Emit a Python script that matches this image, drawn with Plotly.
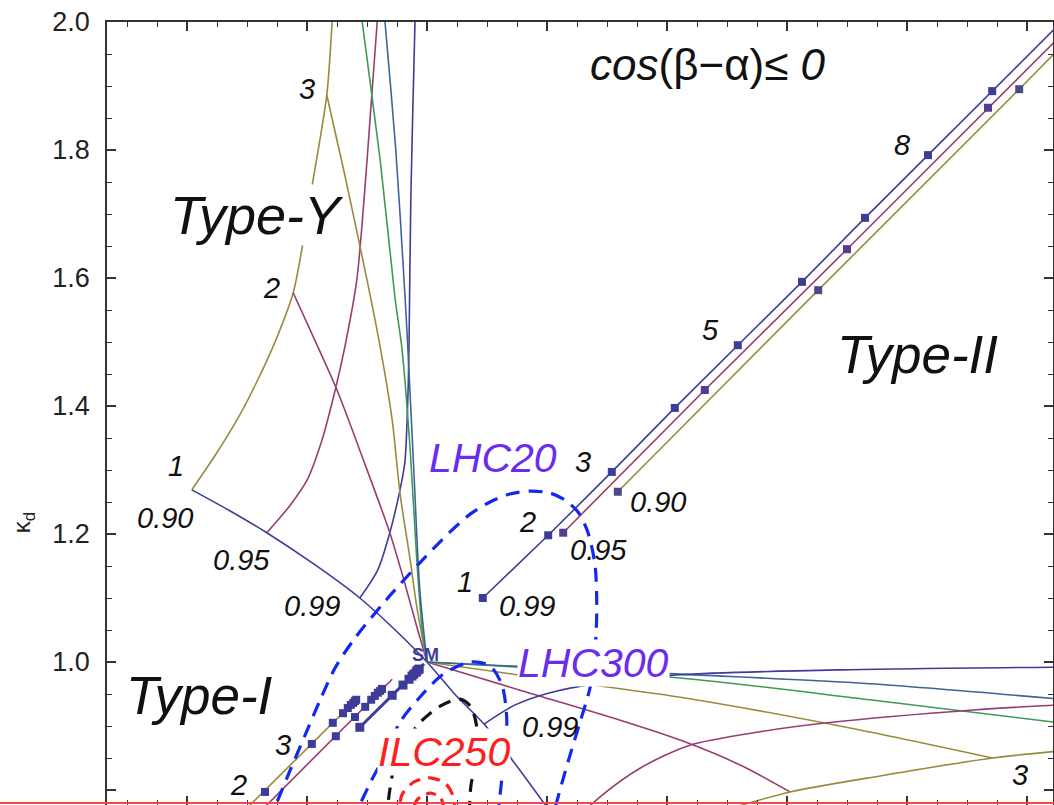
import plotly.graph_objects as go

# ---------------------------------------------------------------
# Palette of the parameter grid (tan(beta) index colours)
# ---------------------------------------------------------------
C_BLUE = "#3D3D99"
C_MAG = "#993D71"
C_OLIVE = "#998B3D"
C_GREEN = "#3D9954"
C_STEEL = "#3D6499"
C_LHC = "#1428F0"
C_TXT_LHC = "#6A2CF0"
C_ILC = "#FF1E1E"

# ---------------------------------------------------------------
# Type-Y : curves of fixed sin(beta-alpha), tan(beta) growing upward
# ---------------------------------------------------------------
y_s90_kl = [0.608, 0.647, 0.685, 0.718, 0.748, 0.777, 0.792, 0.808, 0.833, 0.842, 0.845]
y_s90_kd = [1.269, 1.323, 1.381, 1.441, 1.503, 1.577, 1.648, 1.741, 1.886, 2.000, 2.034]

y_s95_kl = [0.733, 0.772, 0.800, 0.825, 0.847, 0.863, 0.883, 0.895, 0.905, 0.917, 0.920]
y_s95_kd = [1.202, 1.245, 1.284, 1.347, 1.425, 1.492, 1.597, 1.722, 1.847, 2.000, 2.034]

y_s99_kl = [0.888, 0.918, 0.938, 0.955, 0.963, 0.968, 0.970, 0.973, 0.980, 0.981]
y_s99_kd = [1.100, 1.144, 1.202, 1.269, 1.311, 1.409, 1.492, 1.722, 2.000, 2.034]

# Type-Y : curves of fixed tan(beta) running into the SM point
y_tb2_kl = [0.777, 0.813, 0.850, 0.897, 0.938, 0.963, 0.983, 1.000]
y_tb2_kd = [1.577, 1.503, 1.425, 1.308, 1.202, 1.123, 1.055, 1.000]

y_tb3_kl = [0.833, 0.863, 0.900, 0.922, 0.942, 0.955, 0.972, 0.983, 1.000]
y_tb3_kd = [1.886, 1.761, 1.597, 1.492, 1.378, 1.264, 1.159, 1.086, 1.000]

y_tb4_kl = [0.888, 0.892, 0.922, 0.947, 0.958, 0.972, 0.983, 0.992, 1.000]
y_tb4_kd = [2.034, 2.000, 1.784, 1.566, 1.492, 1.331, 1.159, 1.050, 1.000]

y_tb5_kl = [0.927, 0.930, 0.948, 0.963, 0.968, 0.978, 0.988, 1.000]
y_tb5_kd = [2.034, 2.000, 1.800, 1.577, 1.492, 1.300, 1.113, 1.000]

# tan(beta) = 1 : shared by Type-Y (upper left) and Type-X (lower right)
tb1_kl = [0.608, 0.672, 0.733, 0.813, 0.888, 0.947, 1.000, 1.048, 1.095, 1.142, 1.208]
tb1_kd = [1.269, 1.236, 1.202, 1.152, 1.100, 1.050, 1.000, 0.948, 0.903, 0.847, 0.7625]

# ---------------------------------------------------------------
# Type-X : lower right
# ---------------------------------------------------------------
x_tb2_kl = [1.000, 1.155, 1.322, 1.422, 1.522, 1.605]
x_tb2_kd = [1.000, 0.956, 0.909, 0.878, 0.839, 0.797]

x_tb3_kl = [1.000, 1.188, 1.422, 1.705, 1.943]
x_tb3_kd = [1.000, 0.975, 0.945, 0.897, 0.850]

x_tb4_kl = [1.000, 1.422, 1.738, 2.055]
x_tb4_kd = [1.000, 0.975, 0.941, 0.905]

x_tb5_kl = [1.000, 1.422, 1.738, 2.055]
x_tb5_kd = [1.000, 0.981, 0.966, 0.942]

x_s99_kl = [1.095, 1.147, 1.205, 1.288, 1.422, 1.705, 2.055]
x_s99_kd = [0.903, 0.933, 0.952, 0.967, 0.980, 0.988, 0.992]

x_s95_kl = [1.230, 1.288, 1.355, 1.438, 1.555, 1.667, 1.910, 2.055]
x_s95_kd = [0.7375, 0.789, 0.834, 0.870, 0.891, 0.905, 0.925, 0.933]

x_s90_kl = [1.455, 1.527, 1.605, 1.755, 1.943, 2.055]
x_s90_kd = [0.756, 0.777, 0.797, 0.822, 0.850, 0.861]

# ---------------------------------------------------------------
# Type-II : straight bands, dots at tan(beta) = 1, 2, 3, ...
# ---------------------------------------------------------------
ii_s99_kl = [1.093, 1.202, 1.308, 1.413, 1.518, 1.625, 1.730, 1.835, 1.942]
ii_s99_kd = [1.100, 1.198, 1.297, 1.397, 1.495, 1.594, 1.694, 1.792, 1.892]
ii_s99_edge = (2.050, 1.993)

ii_s95_kl = [1.227, 1.463, 1.700, 1.935]
ii_s95_kd = [1.202, 1.425, 1.645, 1.866]
ii_s95_edge = (2.050, 1.973)

ii_s90_kl = [1.318, 1.652, 1.987]
ii_s90_kd = [1.266, 1.581, 1.895]
ii_s90_edge = (2.050, 1.955)

# ---------------------------------------------------------------
# Type-I : along the diagonal below the SM point
# ---------------------------------------------------------------
i_s90_line_kl = [0.697, 0.885]
i_s90_line_kd = [0.769, 0.944]
i_s95_line_kl = [0.725, 0.942]
i_s95_line_kd = [0.769, 0.973]
i_s99_line_kl = [0.888, 0.995]
i_s99_line_kd = [0.898, 0.997]

i_s90_kl = [0.730, 0.808, 0.843, 0.860, 0.868, 0.873, 0.877, 0.880, 0.882]
i_s90_kd = [0.797, 0.872, 0.905, 0.920, 0.928, 0.933, 0.936, 0.939, 0.941]
i_s95_kl = [0.848, 0.880, 0.897, 0.907, 0.913, 0.918, 0.922, 0.925]
i_s95_kd = [0.884, 0.914, 0.930, 0.941, 0.947, 0.952, 0.955, 0.958]
i_s99_kl = [0.888, 0.942, 0.960, 0.970, 0.975, 0.978, 0.982, 0.983, 0.985, 0.987]
i_s99_kd = [0.898, 0.948, 0.964, 0.973, 0.978, 0.981, 0.984, 0.986, 0.988, 0.989]

# ---------------------------------------------------------------
# Expected precision contours
# ---------------------------------------------------------------
lhc20_kl = [0.735, 0.748, 0.772, 0.797, 0.822, 0.847, 0.880, 0.932, 0.988, 1.038, 1.072, 1.105,
            1.138, 1.172, 1.205, 1.230, 1.252, 1.268, 1.280, 1.283, 1.280, 1.272, 1.255, 1.235,
            1.215, 1.208]
lhc20_kd = [0.750, 0.777, 0.831, 0.886, 0.941, 0.991, 1.0375, 1.097, 1.155, 1.203, 1.231, 1.250,
            1.2625, 1.267, 1.264, 1.253, 1.234, 1.203, 1.152, 1.081, 1.019, 0.961, 0.906, 0.844,
            0.777, 0.750]

lhc300_kl = [0.875, 0.888, 0.908, 0.930, 0.955, 0.988, 1.027, 1.072, 1.105, 1.125, 1.133, 1.128, 1.120, 1.117]
lhc300_kd = [0.750, 0.777, 0.816, 0.855, 0.906, 0.945, 0.981, 1.000, 0.994, 0.964, 0.909, 0.847, 0.777, 0.750]

ilc250_kl = [0.932, 0.938, 0.950, 0.988, 1.022, 1.055, 1.073, 1.083, 1.082, 1.073, 1.070]
ilc250_kd = [0.750, 0.800, 0.852, 0.905, 0.931, 0.942, 0.930, 0.898, 0.852, 0.805, 0.750]

ilc_outer_kl = [0.953, 0.958, 0.978, 1.005, 1.030, 1.043, 1.048]
ilc_outer_kd = [0.750, 0.792, 0.8125, 0.819, 0.811, 0.792, 0.750]
ilc_inner_kl = [0.973, 0.983, 1.005, 1.023, 1.030]
ilc_inner_kd = [0.750, 0.784, 0.795, 0.7875, 0.750]

# axis ranges and tick labels
x_range = [0.46667, 2.04333]
y_range = [0.77656, 2.0]
y_tick_vals = [0.8, 1.0, 1.2, 1.4, 1.6, 1.8, 2.0]
y_tick_text = ["0.8", "1.0", "1.2", "1.4", "1.6", "1.8", "2.0"]

fig = go.Figure()


def add_line(xs, ys, color, width=1.6, shape="spline", dash=None):
    fig.add_trace(go.Scatter(
        x=xs, y=ys, mode="lines",
        line=dict(color=color, width=width, shape=shape, smoothing=0.8, dash=dash),
        hoverinfo="skip", showlegend=False))


def add_dots(xs, ys, color, size=8, symbol="square"):
    fig.add_trace(go.Scatter(
        x=xs, y=ys, mode="markers",
        marker=dict(color=color, size=size, symbol=symbol, line=dict(width=0)),
        hoverinfo="skip", showlegend=False))


# Type-Y grid
add_line(y_s90_kl, y_s90_kd, C_OLIVE)
add_line(y_s95_kl, y_s95_kd, C_MAG)
add_line(y_s99_kl, y_s99_kd, C_BLUE)
add_line(y_tb2_kl, y_tb2_kd, C_MAG)
add_line(y_tb3_kl, y_tb3_kd, C_OLIVE)
add_line(y_tb4_kl, y_tb4_kd, C_GREEN)
add_line(y_tb5_kl, y_tb5_kd, C_STEEL)
add_line(tb1_kl, tb1_kd, C_BLUE)

# Type-X grid
add_line(x_tb2_kl, x_tb2_kd, C_MAG)
add_line(x_tb3_kl, x_tb3_kd, C_OLIVE)
add_line(x_tb4_kl, x_tb4_kd, C_GREEN)
add_line(x_tb5_kl, x_tb5_kd, C_STEEL)
add_line(x_s99_kl, x_s99_kd, C_BLUE)
add_line(x_s95_kl, x_s95_kd, C_MAG)
add_line(x_s90_kl, x_s90_kd, C_OLIVE)

# Type-II bands
add_line(ii_s99_kl + [ii_s99_edge[0]], ii_s99_kd + [ii_s99_edge[1]], C_BLUE, shape="linear")
add_line(ii_s95_kl + [ii_s95_edge[0]], ii_s95_kd + [ii_s95_edge[1]], C_MAG, shape="linear")
add_line(ii_s90_kl + [ii_s90_edge[0]], ii_s90_kd + [ii_s90_edge[1]], C_OLIVE, shape="linear")

# Type-I bands
add_line(i_s90_line_kl, i_s90_line_kd, C_OLIVE, shape="linear")
add_line(i_s95_line_kl, i_s95_line_kd, C_MAG, shape="linear")
add_line(i_s99_line_kl, i_s99_line_kd, C_BLUE, width=3, shape="linear")

# precision contours
add_line(lhc20_kl, lhc20_kd, C_LHC, width=3.2, dash="14px,9px")
add_line(lhc300_kl, lhc300_kd, C_LHC, width=3.2, dash="14px,9px")
add_line(ilc250_kl, ilc250_kd, "#151515", width=3.2, dash="13px,9px")
add_line(ilc_outer_kl, ilc_outer_kd, C_ILC, width=3.2, dash="12px,8px")
add_line(ilc_inner_kl, ilc_inner_kd, C_ILC, width=3.2, dash="10px,7px")

# tan(beta) dots
add_dots(ii_s99_kl, ii_s99_kd, C_BLUE)
add_dots(ii_s95_kl, ii_s95_kd, "#553C8E")
add_dots(ii_s90_kl, ii_s90_kd, "#4A4A8A")
add_dots(i_s90_kl, i_s90_kd, C_BLUE, size=8)
add_dots(i_s95_kl, i_s95_kd, C_BLUE, size=8)
add_dots(i_s99_kl, i_s99_kd, C_BLUE, size=9)

FONT = "Liberation Sans"


def label(text, x, y, size, color="#111111", italic=True, bg=None):
    kw = {}
    if bg:
        kw["bgcolor"] = bg
        kw["borderpad"] = 0
    fig.add_annotation(
        x=x, y=y, text=text, showarrow=False, xanchor="center", yanchor="middle",
        font=dict(family=FONT, size=size, color=color, style="italic" if italic else "normal"),
        **kw)


# region names
label("Type-Y", 0.716, 1.698, 54, bg="white")
label("Type-II", 1.818, 1.480, 53)
label("Type-I", 0.620, 0.948, 53)
label("<i>cos</i>(β−α)≤ <i>0</i>", 1.468, 1.933, 44, italic=False)

# contour names
label("LHC20", 1.110, 1.319, 41, color=C_TXT_LHC)
label("LHC300", 1.277, 0.998, 41, color=C_TXT_LHC, bg="white")
label("ILC250", 1.028, 0.859, 41, color=C_ILC, bg="white")
label("<b>SM</b>", 0.997, 1.011, 18, color=C_BLUE, italic=False)

# grid values: tan(beta) and sin(beta-alpha)
SMALL = 29
for txt, xx, yy in [
    ("1", 0.582, 1.306), ("0.90", 0.563, 1.225), ("0.95", 0.690, 1.159), ("0.99", 0.808, 1.0875),
    ("2", 0.740, 1.584), ("3", 0.800, 1.895),
    ("1", 1.063, 1.125), ("0.99", 1.167, 1.0875), ("2", 1.168, 1.219), ("0.95", 1.285, 1.175),
    ("3", 1.260, 1.3125), ("0.90", 1.385, 1.250), ("5", 1.472, 1.519), ("8", 1.792, 1.808),
    ("0.99", 1.205, 0.898), ("3", 1.988, 0.823),
    ("3", 0.760, 0.870), ("2", 0.685, 0.808),
]:
    label(txt, xx, yy, SMALL)

# axis title
fig.add_annotation(
    x=-0.0888, y=0.361, xref="paper", yref="paper", text="κ<sub>d</sub>", showarrow=False,
    xanchor="center", yanchor="middle", textangle=-90,
    font=dict(family=FONT, size=24, color="#222222"))

# thin red rule across the lower edge
fig.add_shape(type="line", xref="paper", yref="paper", x0=-0.12, x1=1.01, y0=0.0026, y1=0.0026,
              line=dict(color="#F04848", width=2))

axis_common = dict(
    showgrid=False, zeroline=False, showline=True, linecolor="#333333", linewidth=1.5,
    mirror="ticks", ticks="inside", ticklen=9, tickwidth=1.5, tickcolor="#333333",
)

fig.update_xaxes(
    range=x_range, tickmode="linear", tick0=0, dtick=0.2, showticklabels=False,
    minor=dict(tick0=0, dtick=0.05, ticks="inside", ticklen=5, tickwidth=1.2, tickcolor="#333333"),
    **axis_common)
fig.update_yaxes(
    range=y_range, tickmode="array", tickvals=y_tick_vals, ticktext=y_tick_text,
    tickfont=dict(family=FONT, size=27, color="#222222"), ticklabelstandoff=10,
    minor=dict(tick0=0, dtick=0.05, ticks="inside", ticklen=5, tickwidth=1.2, tickcolor="#333333"),
    **axis_common)

fig.update_layout(
    width=1054, height=805,
    margin=dict(l=107, r=1, t=22, b=0),
    paper_bgcolor="white", plot_bgcolor="white",
    showlegend=False,
)

fig.write_html("out.html")
